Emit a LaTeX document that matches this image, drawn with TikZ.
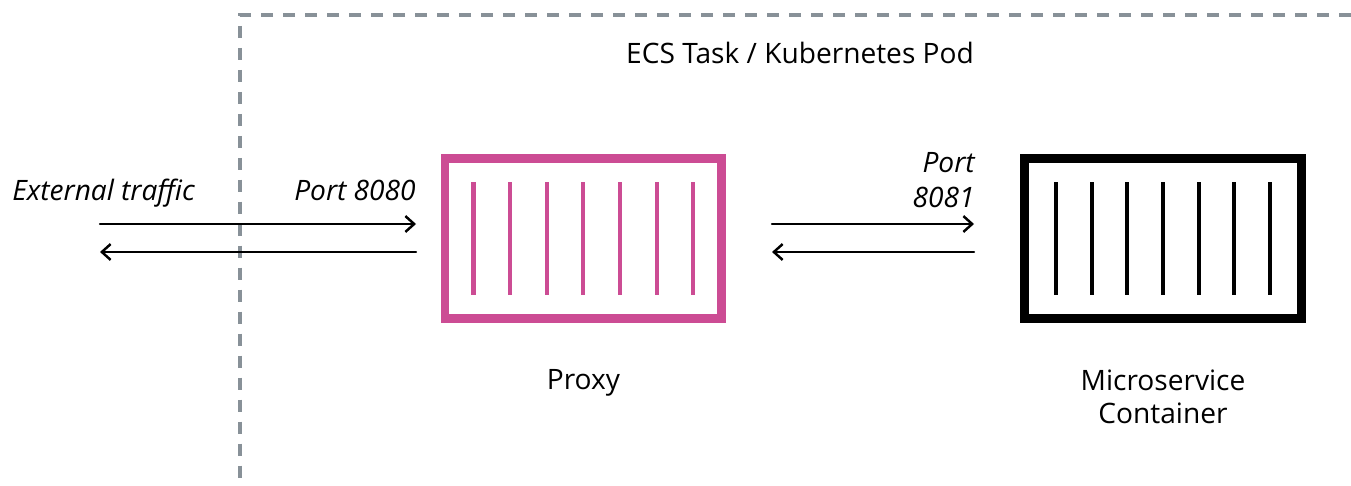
\documentclass[tikz,border=0pt]{standalone}
\usepackage{fontspec}
\setmainfont{Open Sans}
\usetikzlibrary{arrows.meta}
\usetikzlibrary{positioning}
\definecolor{proxypink}{RGB}{204,76,148}
\definecolor{podgrey}{RGB}{136,145,152}

\begin{document}
\begin{tikzpicture}[x=0.02cm,y=-0.02cm,>={Straight Barb[length=5pt,width=9pt]},
    font=\fontsize{16}{18.8}\selectfont,
    every node/.style={inner sep=0pt},
    note/.style={font=\fontsize{16}{19.5}\selectfont\itshape},
    flow/.style={->,line width=1.4pt,line cap=round},
    container/.style={draw,line width=5pt,minimum width=5.54cm,minimum height=3.2cm},
    stripe/.style={line width=2.3pt},
    pod/.style={draw=podgrey,line width=1.9pt,dash pattern=on 0.25cm off 0.19cm}]
    \useasboundingbox (0,0) rectangle (1351,486);

    % task / pod boundary
    \draw[pod] (1351,15) -- (240,15) -- (240,486);
    \node[] (podtitle) at (800,53) {ECS Task / Kubernetes Pod};

    \node[container,draw=proxypink] (proxy) at (583.4,238.3) {};
    \node[container] (app) at (1163,238.7) {};
    \foreach \i in {-3,...,3} {
        \draw[stripe,proxypink] ([xshift=\i*0.733cm,yshift=1.126cm]proxy.center) -- ++(0,112.6);
        \draw[stripe] ([xshift=\i*0.714cm,yshift=1.126cm]app.center) -- ++(0,112.6);
    }
    \node[below=0.92cm of proxy] (proxylabel) {Proxy};
    \node[below=0.92cm of app,align=center] (applabel) {Microservice\\Container};

    \node[note,anchor=base west] (external) at (12,200) {External traffic};
    \node[note,anchor=base east] (port8080) at (416,200) {Port 8080};
    \node[note,anchor=east,align=right] (port8081) at (975,180) {Port\\8081};

    \coordinate (ext) at (100,238);
    \coordinate (proxyin) at (416,238);
    \coordinate (proxyout) at (772,238);
    \coordinate (appin) at (974,238);

    \draw[flow] ([yshift=0.28cm]ext) -- ([yshift=0.28cm]proxyin);
    \draw[flow] ([yshift=-0.28cm]proxyin) -- ([yshift=-0.28cm]ext);
    \draw[flow] ([yshift=0.28cm]proxyout) -- ([yshift=0.28cm]appin);
    \draw[flow] ([yshift=-0.28cm]appin) -- ([yshift=-0.28cm]proxyout);
\end{tikzpicture}
\end{document}
